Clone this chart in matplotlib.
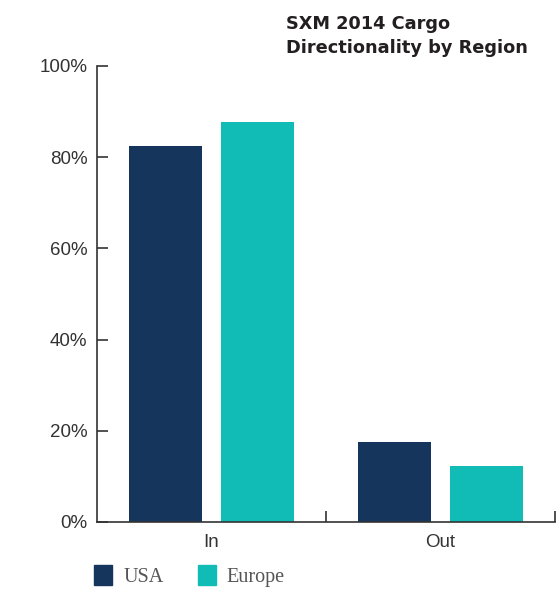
import matplotlib.pyplot as plt
from matplotlib.patches import Patch
from matplotlib.ticker import FixedLocator
import numpy as np

# Cargo share by direction, per region (percent)
directions = ['In', 'Out']
regions = ['USA', 'Europe']
usa = [82.5, 17.5]
europe = [87.7, 12.3]
yticks = [0, 20, 40, 60, 80, 100]

navy = '#16355C'
teal = '#12BCB6'
axis_color = '#333333'

fig = plt.figure(figsize=(5.58, 5.89), dpi=100)
ax = fig.add_axes([0.174, 0.1138, 0.8206, 0.7742])

x = np.arange(len(directions))
width = 0.32
ax.bar(x - 0.2, usa, width, color=navy, label=regions[0])
ax.bar(x + 0.2, europe, width, color=teal, label=regions[1])

ax.set_xlim(-0.5, 1.5)
ax.set_ylim(0, 100)

# y axis: percent labels, ticks pointing into the plot
ax.set_yticks(yticks)
ax.set_yticklabels([f'{v}%' for v in yticks], fontsize=13.5,
                   family='Liberation Sans', color=axis_color)
ax.tick_params(axis='y', direction='in', length=8, width=1.2,
               color=axis_color, pad=7)

# x axis: category labels, separator ticks between groups
ax.set_xticks(x)
ax.set_xticklabels(directions, fontsize=13.5, family='Liberation Sans',
                   color=axis_color)
ax.tick_params(axis='x', which='major', length=0, pad=9)
ax.xaxis.set_minor_locator(FixedLocator([0.5, 1.5]))
ax.tick_params(axis='x', which='minor', direction='in', length=8,
               width=1.2, color=axis_color)

for side in ['top', 'right']:
    ax.spines[side].set_visible(False)
for side in ['left', 'bottom']:
    ax.spines[side].set_color(axis_color)
    ax.spines[side].set_linewidth(1.2)

fig.text(286 / 558, 1 - 15 / 589, 'SXM 2014 Cargo\nDirectionality by Region',
         ha='left', va='top', fontsize=12.8, fontweight='bold',
         family='DejaVu Sans', color='#231F20', linespacing=1.45)

handles = [Patch(color=navy), Patch(color=teal)]
fig.legend(handles, regions, loc='lower left', bbox_to_anchor=(0.136, -0.027),
           ncol=2, frameon=False, handlelength=0.9, handleheight=1.1,
           handletextpad=0.55, columnspacing=1.7,
           prop={'family': 'Liberation Serif', 'size': 14.5},
           labelcolor='#555555')

fig.savefig('out.png', dpi=100)
